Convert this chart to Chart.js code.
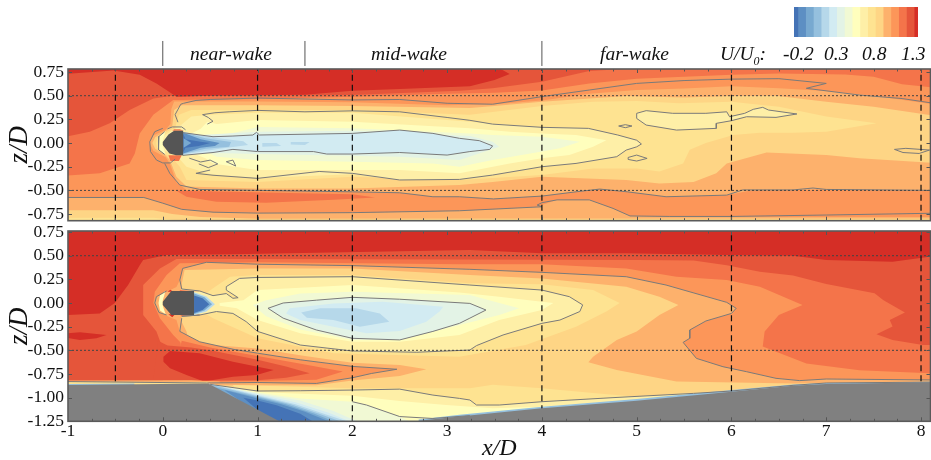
<!DOCTYPE html>
<html>
<head>
<meta charset="utf-8">
<script src="https://cdn.jsdelivr.net/npm/chart.js@4"></script>
<style>
html, body { margin: 0; background: #fff; }
body { position: relative; width: 931px; height: 460px; overflow: hidden; font-family: "Liberation Serif", serif; }
canvas { position: absolute; left: 0; }
.lab { position: absolute; top: 42px; font-style: italic; font-size: 19.5px; line-height: 24px; white-space: nowrap; color: #111; }
.lab sub { font-size: 12px; line-height: 0; }
</style>
</head>
<body>
<canvas id="topChart" width="931" height="225" style="top:0"></canvas>
<canvas id="botChart" width="931" height="235" style="top:225px"></canvas>
<canvas id="barChart" width="124" height="30" style="left:794px;top:7px"></canvas>
<span class="lab" style="left:190px">near-wake</span>
<span class="lab" style="left:371px">mid-wake</span>
<span class="lab" style="left:600px">far-wake</span>
<span class="lab" style="left:720px">U/U<sub>0</sub>:</span>
<span class="lab" style="left:783px">-0.2</span>
<span class="lab" style="left:824px">0.3</span>
<span class="lab" style="left:862px">0.8</span>
<span class="lab" style="left:901px">1.3</span>
<script>
// contour levels, low to high
const levelColors = ['#4473b6','#5d8fc3','#78a9d0','#95c0de','#b6d8ea','#d2ebf2','#e3f3e6','#f1f9d4','#fffebd','#feefa7','#fee391','#fed585','#fdb16c','#fc9659','#f4744a','#e5553a','#d52e26'];
const levelWidths = [0.5,1,1,1,1,1,1,1,1,1,1,1,1,1,1,1,0.5];
const [c0,c1,c2,c3,c4,c5,c6,c7,c8,c9,c10,c11,c12,c13,c14,c15,c16] = levelColors;

const xTicks = [-1,0,1,2,3,4,5,6,7,8];
const topZTicks = [0.75,0.5,0.25,0,-0.25,-0.5,-0.75];
const botZTicks = [0.75,0.5,0.25,0,-0.25,-0.5,-0.75,-1,-1.25];
const xProbes = [-0.5,1,2,4,6,8];
const zProbes = [0.5,-0.5];
const regionEdges = [0,1.5,4];
const wholeBox = [-1.02,.9,8.2,.9,8.2,-1.3,-1.02,-1.3];

// top panel, filled regions as x,z pairs
const topF47 = [-1.02,.79,8.2,.79,8.2,.58,7.8,.62,7.5,.7,7.2,.725,6.5,.735,6,.72,5.5,.7,5,.68,4.5,.63,4,.555,3.5,.53,3,.52,2,.49,1,.465,.5,.46,.2,.455,.11,.455,-.1,.3,-.243,.1,-.295,-.11,-.35,-.215,-.665,-.32,-1.02,-.345];
const topE55 = [-1.02,.79,5,.79,4.5,.76,4,.648,3.48,.578,3.13,.553,2,.507,1,.5,.1,.5,-.1,.47,-.35,.35,-.56,.21,-.77,.12,-1.02,.067];
const topRed = [-1.02,.79,3.55,.79,3.66,.73,3.5,.665,3.24,.6,2.5,.57,2,.553,1.5,.51,1,.505,.5,.5,.144,.49,.07,.54,-.067,.63,-.243,.72,-.52,.765,-1.02,.73];
const topFloorA = [-1.02,-.575,-.2,-.575,0,-.635,.2,-.7,.53,-.73,1,-.74,2,-.735,3.13,-.715,4,-.673,4,-.655,4.16,-.6,4.5,-.6,4.75,-.69,4.93,-.77,5.35,-.775,6.5,-.78,8.2,-.78,8.2,-.85,-1.02,-.85];
const topFloorB = [-1.02,-.71,-.1,-.71,.1,-.75,.4,-.78,1,-.8,8.2,-.796,8.2,-.85,-1.02,-.85];
const topFloorC = [-1.02,-.79,-.1,-.79,.1,-.81,.3,-.83,-1.02,-.85];
const topBlob = [.144,-.504,.25,-.567,.566,-.62,1.09,-.63,1.8,-.6,2.24,-.574,2,-.54,1.45,-.53,.74,-.514];
const topFdb = [.12,.44,.5,.44,1,.44,2,.43,3,.4,3.5,.41,4,.45,4.5,.52,5,.56,5.5,.575,6,.6,6.5,.58,7,.55,7.5,.5,8.2,.4,8.2,-.5,7,-.49,6.2,-.5,5.95,-.55,5.31,-.567,4.9,-.515,4.61,-.486,4.36,-.515,4,-.56,3.49,-.59,3.13,-.567,2.85,-.567,2.5,-.525,2,-.515,1.45,-.504,.25,-.497,.144,-.41,.074,-.215,.03,-.15,-.1,-.08,-.14,0,-.1,.08,.03,.14,.08,.2,.09,.36];
const topFed = [.2,.4,1,.4,2,.39,3.24,.37,3.5,.39,4,.437,4.89,.497,5.5,.48,6,.497,6.47,.5,7,.437,7.5,.384,8.09,.296,8.2,.28,8.2,-.215,7.35,-.16,7,-.127,6.37,-.1,5.95,-.215,5.84,-.32,5.6,-.41,5.24,-.426,4.89,-.39,4,-.356,3.48,-.41,3.13,-.444,2,-.48,1,-.48,.25,-.46,.144,-.356,.074,-.18,.02,-.12,-.08,-.06,-.11,0,-.08,.06,.02,.12,.1,.18,.12,.35];
const topFee = [.3,.35,1,.35,2,.35,3.24,.3,4,.39,4.54,.437,5,.444,5.45,.42,6,.437,6.5,.384,7,.28,7.53,.208,7,.12,6.65,.11,6.3,.11,6.02,.085,5.73,0,5.56,-.07,5.49,-.215,5.24,-.3,5,-.27,4.54,-.268,4,-.338,3.48,-.37,3.13,-.39,2,-.355,1,-.41,.25,-.39,.18,-.25,.11,-.17,0,-.1,-.06,-.05,-.07,0,-.06,.05,0,.1,.13,.16,.17,.3];
const topPale = [.5,.3,1,.32,2,.32,3.24,.225,3.48,.2,4,.166,4.49,.155,4.8,.085,5,.03,5.05,-.01,5,-.04,4.89,-.074,4.79,-.144,4.36,-.215,4,-.25,3.48,-.338,3.13,-.384,2.5,-.39,2,-.33,1,-.37,.5,-.33,.25,-.25,.18,-.17,0,-.07,-.04,0,0,.07,.18,.18,.3,.28];
const topIsland = [5,.314,5.1,.342,5.38,.314,5.73,.314,5.95,.33,5.98,.278,6.14,.314,6.23,.356,6.33,.377,6.39,.349,6.69,.307,6.47,.271,6.16,.278,6,.236,5.84,.208,5.84,.155,5.42,.137,5.1,.19,5,.26,5,.314];
const topLemon = [.47,.225,.57,.2,1,.243,2,.225,3.24,.155,3.66,.12,4,.1,4.36,.085,4.68,.03,4.54,-.04,4.29,-.127,4,-.16,3.66,-.215,3.13,-.32,2.5,-.285,2,-.285,1,-.285,.53,-.215,.45,-.16,.3,-.1,.3,.1,.4,.15];
const topGreen = [.8,.12,1,.17,2,.155,3.24,.1,3.48,.085,4,.067,4.4,.014,4.19,-.056,4,-.09,3.48,-.18,3.13,-.25,2.85,-.215,2,-.197,1,-.18,.57,-.144,.4,-.07,.46,0,.6,.08];
const topMint = [.3,.08,1,.12,2,.13,3.24,.074,3.48,.014,3.55,-.04,3.13,-.18,2.5,-.144,1,-.116,.3,-.1];
const topCore = [.21,.11,.53,.067,.74,.074,.95,.085,.99,.113,1.02,.085,2,.102,2.5,.137,2.85,.102,3.13,.05,3.34,.025,3.48,-.03,3.45,-.067,3.24,-.09,3,-.127,2.5,-.1,2,-.116,1.73,-.116,1.59,-.09,1,-.09,.74,-.067,.53,-.1,.21,-.13];
const topSky1 = [.215,.12,.5,.06,.85,.02,.9,-.02,.6,-.06,.215,-.12];
const topSky2 = [1.05,0,1.2,0,1.25,-.03,1.05,-.04];
const topSky3 = [1.35,.01,1.55,.01,1.5,-.02,1.35,-.015];
const topBlue1 = [.215,.115,.45,.05,.72,.01,.7,-.04,.45,-.06,.215,-.115];
const topBlue2 = [.215,.11,.4,.04,.6,0,.55,-.03,.4,-.05,.215,-.11];
const topBlue3 = [.215,.1,.24,.04,.4,.015,.5,0,.38,-.03,.24,-.05,.215,-.1];
const topBlue4 = [.22,.05,.3,0,.22,-.05];
const topNose = [.03,.13,-.03,.08,-.045,0,-.03,-.08,.03,-.12,0,-.03,0,.03];
const topFleckA = [.1,.13,.22,.13,.18,.145,.12,.145];
const topFleckB = [.06,-.13,.2,-.13,.17,-.19,.08,-.19];
const topBody = [.215,.13,.12,.13,.06,.09,0,.01,0,-.02,.07,-.11,.14,-.13,.215,-.13];

// top panel, contour lines
const topLineUp = [.16,.22,.13,.3,.19,.41,.22,.42,.35,.45,.5,.46,1,.475,2,.455,2.5,.46,3,.42,3.48,.41,4,.49,4.5,.56,5,.63,5.5,.66,6,.675,6.5,.68,7,.63,6.79,.578,7.35,.507,7.8,.47,8.2,.41];
const topLineLow = [.02,-.215,.074,-.32,.18,-.444,.39,-.49,2,-.515,2.5,-.525,2.85,-.567,3.13,-.567,3.49,-.59,4,-.56,4.36,-.515,4.61,-.486,4.9,-.515,5.31,-.567,5.95,-.55,6.12,-.495,6.65,-.495,6.86,-.475,7,-.49,8.2,-.5];
const topLineFloor = [-1.02,-.575,-.2,-.575,0,-.635,.2,-.7,.53,-.73,1,-.74,2,-.735,3.13,-.715,4,-.673,3.95,-.655,4,-.63,4.16,-.6,4.5,-.6,4.75,-.69,4.93,-.77,5.35,-.775,6,-.775,7,-.76,8.2,-.74];
const topLineInner = [.47,.2,.53,.23,.48,.27,.42,.3,.55,.32,.7,.33,1,.345,1.5,.33,2,.34,2.5,.33,3,.27,3.24,.24,3.48,.2,4,.166,4.49,.155,4.8,.085,5,.03,5.05,-.01,5,-.04,4.89,-.074,4.79,-.144,4.36,-.215,4,-.25,3.48,-.338,3.13,-.384,2.5,-.39,2,-.32,1.65,-.3,1,-.373,.53,-.34,.35,-.32,.5,-.285];
const topLineNose = [0,.155,-.085,.12,-.137,.014,-.13,-.09,-.066,-.18,0,-.21,.08,-.21,.13,-.17];
const topLineShoulder = [.05,.15,.1,.17,.2,.17,.24,.14];
const topLineShell = [.02,.12,-.04,.07,-.05,0,-.04,-.07,.02,-.12];
const topLoopA = [4.81,.18,4.88,.194,4.95,.18,4.88,.162,4.81,.18];
const topLoopB = [4.91,-.152,5,-.127,5.11,-.162,5,-.19,4.91,-.173,4.91,-.152];
const topLoopC = [7.72,-.067,7.84,-.056,8.09,-.074,7.98,-.11,7.81,-.1,7.72,-.067];
const topLoopD = [.67,-.197,.74,-.18,.77,-.243,.71,-.215,.67,-.197];
const topJag = [.28,-.16,.4,-.2,.5,-.18,.58,-.22,.48,-.26,.38,-.22];

// bottom panel, filled regions
const botRed = [-1.02,.8,8.2,.8,8.2,.49,8.09,.49,7.7,.437,7,.455,6.65,.5,5.95,.507,4.89,.525,4,.525,3.24,.56,.74,.515,.04,.507,-.207,.455,-.243,.4,-.366,.19,-.506,0,-.665,-.11,-1.02,-.127];
const botPatch = [-1.02,-.32,-.875,-.31,-.594,-.338,-.7,-.373,-.875,-.39,-1.02,-.366];
const botF47 = [.144,.465,-.03,.366,-.207,.19,-.207,-.127,-.067,-.3,0,-.48,0,-1.3,8.2,-1.3,8.2,-.445,8.02,-.444,7.7,-.39,7.53,-.33,7.7,-.247,7.67,-.18,7.83,-.1,7.6,.032,7.51,.102,7,.2,6.65,.29,6.3,.33,5.95,.4,5.6,.45,5,.455,3,.46,1,.465];
const botFc9 = [.18,.42,.04,.296,-.084,.12,-.1,0,-.03,-.16,.11,-.338,.25,-.48,.25,-1.3,8.2,-1.3,8.2,-.75,8.09,-.743,7.35,-.71,6.79,-.64,6.33,-.46,6.35,-.3,6.5,-.127,6.75,-.02,6.3,.173,5.95,.243,5.42,.278,4.89,.366,4,.41,3.13,.41,1,.43];
const botFdb = [.21,.366,.46,.43,1,.41,2,.395,3.24,.356,4,.324,4.89,.278,5.31,.19,5.95,.007,6.05,-.056,6,-.11,5.73,-.19,5.56,-.285,5.56,-.373,5.49,-.416,5.63,-.585,5.91,-.673,6.16,-.726,6.47,-.796,6.72,-.82,7,-.803,8.2,-.814,8.2,-1.3,.3,-1.3,.3,-.5,.18,-.3,.144,-.18,-.04,-.1,-.084,0,-.067,.067,.144,.17,.18,.243];
const botFed = [.23,.35,1,.366,2,.366,3.24,.296,4,.26,4.89,.173,5.24,.067,5.44,-.02,5.24,-.127,5,-.3,4.79,-.39,4.54,-.567,4.49,-.627,4.79,-.708,5.42,-.83,6.65,-.85,8.2,-.83,8.2,-1.3,.4,-1.3,.3,-.5,.25,-.3,.2,-.2,.2,.2];
const botFee = [.53,.155,.71,.278,1,.296,2,.296,3.24,.208,4,.197,4.54,.137,4.82,0,4.68,-.09,4.36,-.25,3.83,-.444,3.13,-.567,1.8,-.532,1,-.373,.53,-.16,.36,-.056,.39,.05];
const botInner = [.2,.148,.39,.127,.53,.078,.67,.1,.74,.05,.795,.056,.67,.137,.67,.173,.81,.26,1,.27,2,.278,3.24,.19,4,.137,4.29,.067,4.43,-.02,4.4,-.09,4.19,-.18,4,-.215,3.59,-.338,3.31,-.45,3.24,-.497,2.68,-.52,2,-.507,1.45,-.444,1,-.3,.88,-.197,.74,-.11,.566,-.09,.39,-.127,.2,-.14];
const botLemon = [.6,0,.85,.03,1,.137,2,.19,3.13,.11,3.55,.067,4,.014,4.12,0,4,-.074,3.55,-.18,3.13,-.338,2.5,-.41,2,-.41,1.45,-.32,1,-.18,.78,-.056,.6,-.03];
const botGreen = [.95,-.02,1.09,.03,1.45,.1,2,.12,3.24,.085,3.55,0,3.76,-.056,3.55,-.127,3.13,-.233,2.5,-.39,2,-.39,1.45,-.28,1.09,-.14];
const botMint = [1.11,-.056,1.27,0,1.62,.03,2,.06,2.5,.04,3.24,-.004,3.41,-.074,3.24,-.16,3.13,-.215,2.85,-.3,2.5,-.39,2,-.373,1.62,-.285,1.27,-.16,1.11,-.056];
const botCore = [1.34,-.056,1.8,-.004,2.32,.014,2.96,-.04,2.92,-.09,2.78,-.197,2.5,-.296,2.15,-.32,1.8,-.25,1.45,-.18,1.3,-.11];
const botSky = [1.46,-.1,1.66,-.056,2.04,-.056,2.29,-.11,2.39,-.197,2.08,-.25,1.8,-.18,1.52,-.155];
const botJetFdb = [.3,-.42,.6,-.45,1,-.48,1.5,-.56,2,-.63,2.5,-.655,2.78,-.7,2.5,-.77,2,-.82,1.62,-.87,.5,-.87,.25,-.6];
const botJetFc9 = [.18,-.3,.39,-.41,.75,-.49,1,-.53,1.45,-.6,2,-.67,2.47,-.7,2.2,-.745,2,-.79,1.62,-.85,1,-.84,.46,-.845,.15,-.85,.2,-.6];
const botJetF47 = [.2,-.4,.5,-.47,1,-.56,1.5,-.65,1.9,-.725,1.62,-.81,1,-.825,.5,-.83,.1,-.83];
const botJetE55 = [-.05,-.4,.05,-.45,.3,-.47,.5,-.5,1,-.6,1.3,-.67,1.55,-.743,1.3,-.79,1,-.815,.5,-.82,-.1,-.82];
const botJetRed = [.007,-.567,.077,-.507,.39,-.532,.74,-.62,1.17,-.708,.99,-.76,.74,-.778,.53,-.813,.42,-.824,.25,-.76,.077,-.69,.007,-.62];
const botStripA = [-1.02,-.82,.3,-.815,.6,-.83,.6,-.9,-1.02,-.9];
const botStripB = [-1.02,-.835,.48,-.835,.48,-.9,-1.02,-.9];
const botStripC = [-1.02,-.855,-.3,-.85,-.3,-.9,-1.02,-.9];
const botRampFee = [.74,-.867,2,-.9,3.24,-.9,3.48,-.865,4,-.9,4.54,-.95,5,-.99,5.6,-.95,6,-.93,6,-1,3,-1.3,1,-1.3];
const botRampPale = [.5,-.86,1,-.93,1.45,-.927,2,-.92,2.5,-.91,2.85,-.973,3.24,-1.025,3.31,-1.078,3.55,-1.078,4,-1.043,4.75,-1,5.6,-.955,6,-.93,6.65,-.874,7,-.85,8.2,-.84,8.2,-1.3,1,-1.3];
const botRampLemon = [.5,-.865,1,-.94,2,-.98,2.5,-1.036,2.99,-1.078,3.48,-1.113,4,-1.096,4.72,-1.043,4.75,-1.2,3,-1.3,1,-1.3];
const botRampGreen = [.48,-.85,1,-.945,1.45,-1.01,2,-1.043,2.15,-1.078,2.25,-1.113,2.5,-1.2,2.6,-1.25,2.6,-1.3,1.2,-1.3];
const botRampMint = [.48,-.85,1,-.955,1.45,-1.03,1.8,-1.14,2.05,-1.25,2.05,-1.3,1.2,-1.3];
const botRamp5 = [.48,-.85,1,-.965,1.4,-1.05,1.75,-1.16,1.97,-1.25,1.97,-1.3,1.2,-1.3];
const botRamp4 = [.48,-.85,1,-.975,1.4,-1.07,1.7,-1.17,1.94,-1.25,1.94,-1.3,1.2,-1.3];
const botRamp3 = [.5,-.86,1,-.985,1.35,-1.07,1.65,-1.17,1.87,-1.25,1.87,-1.3,1.2,-1.3];
const botRamp2 = [.55,-.89,1,-.995,1.3,-1.07,1.6,-1.17,1.8,-1.25,1.8,-1.3,1.2,-1.3];
const botRamp1 = [.65,-.92,1,-1.01,1.25,-1.07,1.5,-1.15,1.75,-1.25,1.75,-1.3,1.2,-1.3];
const botRamp0 = [.85,-1,1,-1.03,1.2,-1.08,1.45,-1.17,1.58,-1.25,1.58,-1.3,1.2,-1.3];
const botRise = [2.7,-1.23,3.13,-1.18,4,-1.095,5,-1.015,6,-.92,6.65,-.86,7,-.845,8.2,-.83,8.2,-.9,2.7,-1.3];
const botGroundA = [-1.02,-.867,.48,-.85,1.23,-1.25,1.25,-1.3,-1.02,-1.3];
const botGroundB = [2.65,-1.3,2.7,-1.245,3.13,-1.2,4,-1.113,5,-1.032,6,-.937,6.65,-.874,7,-.856,8.2,-.837,8.2,-1.3];
const botBody = [.33,.127,.09,.127,0,.014,0,-.02,.09,-.127,.33,-.127];
const botBubble1 = [.33,.115,.46,.07,.55,-.014,.46,-.09,.33,-.127];
const botBubble2 = [.33,.1,.44,.06,.52,-.014,.44,-.08,.33,-.115];
const botBubble3 = [.33,.08,.42,.05,.49,-.014,.42,-.075,.33,-.105];
const botNose = [.03,.13,-.03,.08,-.045,0,-.03,-.08,.03,-.12,0,-.03,0,.03];
const botFleckA = [.05,.12,.11,.12,.08,.14];
const botFleckB = [.06,-.12,.13,-.12,.1,-.15];
const botStripUp = [.18,.138,.42,.125,.18,.125];
const botStripLow = [.18,-.125,.42,-.125,.2,-.14];

// bottom panel, contour lines
const botLineOuter = [.2,.148,.18,.243,.21,.366,.46,.43,1,.41,2,.395,3.24,.356,4,.324,4.89,.278,5.31,.19,5.95,.007,6.05,-.056,6,-.11,5.73,-.19,5.56,-.285,5.56,-.373,5.49,-.416,5.63,-.585,5.91,-.673,6.16,-.726,6.47,-.796,6.72,-.82,7,-.803,8.2,-.814];
const botLineJet = [.2,-.16,.18,-.3,.39,-.41,.75,-.49,1,-.53,1.45,-.6,2,-.67,2.47,-.7,2.2,-.745,2,-.79,1.62,-.85,1,-.84,.46,-.845,-1.02,-.83];
const botLineRamp = [.5,-.86,1,-.93,1.45,-.927,2,-.92,2.5,-.91,2.85,-.973,3.13,-1.008,3.24,-1.025,3.31,-1.078,3.55,-1.078,4,-1.043,4.75,-1,5.6,-.955,6,-.93,6.65,-.87,7,-.845,8.2,-.835];
const botLineBelow = [2,-1.043,2.15,-1.078,2.25,-1.113,2.5,-1.2,2.85,-1.22,3.24,-1.19];
const botLineNose = [.04,.127,-.067,.067,-.084,0,-.04,-.1,.04,-.127];
const botLineBack = [.39,-.127,.2,-.14];

function xy(flat) {
    const out = [];
    for (let i = 0; i < flat.length; i += 2) out.push({ x: flat[i], y: flat[i + 1] });
    return out;
}
function area(flat, color) {
    return { data: xy(flat), showLine: true, fill: 'shape', backgroundColor: color, borderWidth: 0, pointRadius: 0, tension: 0 };
}
function line(flat, color, width, dash, noClip) {
    const d = { data: xy(flat), showLine: true, fill: false, borderColor: color, borderWidth: width, borderDash: dash || [], pointRadius: 0, tension: 0 };
    if (noClip) d.clip = false;
    return d;
}
function contour(flat) { return line(flat, '#7a7a7a', 1); }
function probes(zLow, zHigh) {
    return xProbes.map(x => line([x, zLow, x, zHigh], '#111', 1.2, [6, 4]))
        .concat(zProbes.map(z => line([-1, z, 8.1, z], '#444', 1, [2, 2])));
}
// later entries paint over earlier ones
function stacked(list) {
    list.forEach((d, i) => { d.order = list.length - i; });
    return list;
}

const frame = {
    id: 'frame',
    afterDatasetsDraw(chart) {
        const { ctx, chartArea: a, scales: { x, y } } = chart;
        ctx.save();
        ctx.strokeStyle = '#555';
        ctx.lineWidth = 1;
        ctx.beginPath();
        for (let v = -0.75; v <= 8; v += 0.25) {
            const p = Math.round(x.getPixelForValue(v)) + 0.5;
            const len = Number.isInteger(v) ? 4 : 2.5;
            ctx.moveTo(p, a.top); ctx.lineTo(p, a.top + len);
            ctx.moveTo(p, a.bottom); ctx.lineTo(p, a.bottom - len);
        }
        for (const v of y.ticks.map(t => t.value)) {
            const p = Math.round(y.getPixelForValue(v)) + 0.5;
            ctx.moveTo(a.left, p); ctx.lineTo(a.left + 4, p);
            ctx.moveTo(a.right, p); ctx.lineTo(a.right - 4, p);
        }
        ctx.stroke();
        ctx.lineWidth = 1.6;
        ctx.strokeStyle = '#5a5a5a';
        ctx.strokeRect(a.left, a.top, a.right - a.left, a.bottom - a.top);
        ctx.restore();
    }
};

function panel(id, datasets, zMin, zMax, zTicks, padTop, xHeight, showX) {
    Chart.defaults.font.family = '"Liberation Serif", serif';
    return new Chart(document.getElementById(id), {
        type: 'scatter',
        data: { datasets: stacked(datasets) },
        plugins: [frame],
        options: {
            responsive: false,
            animation: false,
            devicePixelRatio: 1,
            layout: { autoPadding: false, padding: { top: padTop, right: 0.5, left: 0, bottom: 0 } },
            plugins: { legend: { display: false }, tooltip: { enabled: false } },
            events: [],
            scales: {
                x: {
                    min: -1, max: 8.1,
                    afterBuildTicks(s) { s.ticks = xTicks.map(v => ({ value: v })); },
                    afterFit(s) { s.height = xHeight; s.paddingLeft = 0; s.paddingRight = 0; },
                    grid: { display: false, drawTicks: false },
                    border: { display: false },
                    ticks: { display: showX, color: '#111', font: { size: 17.5 }, padding: 0, maxRotation: 0, autoSkip: false },
                    title: { display: showX, text: 'x/D', color: '#111', font: { size: 24, style: 'italic' }, padding: { top: 0, bottom: -3 } }
                },
                y: {
                    min: zMin, max: zMax,
                    afterBuildTicks(s) { s.ticks = zTicks.map(v => ({ value: v })); },
                    afterFit(s) { s.width = 68; s.paddingTop = 0; s.paddingBottom = 0; },
                    grid: { display: false, drawTicks: false },
                    border: { display: false },
                    ticks: { color: '#111', font: { size: 17.5 }, padding: 4, autoSkip: false, callback: v => v.toFixed(2) },
                    title: { display: true, text: 'z/D', color: '#111', font: { size: 27, style: 'italic' }, padding: { top: 4, bottom: 0 } }
                }
            }
        }
    });
}

panel('topChart', [
    area(wholeBox, c13),
    area(topF47, c14), area(topE55, c15), area(topRed, c16),
    area(topFloorA, c12), area(topFloorB, c11), area(topFloorC, c10), area(topBlob, c14),
    area(topFdb, c12), area(topFed, c11), area(topFee, c10), area(topPale, c9), area(topIsland, c9),
    area(topLemon, c8), area(topGreen, c7), area(topMint, c6), area(topCore, c5),
    area(topSky1, c4), area(topSky2, c4), area(topSky3, c4),
    area(topBlue1, c3), area(topBlue2, c1), area(topBlue3, c0), area(topBlue4, c2),
    area(topNose, c8), area(topFleckA, c14), area(topFleckB, c14),
    contour(topLineUp), contour(topLineLow), contour(topLineFloor), contour(topLineInner),
    contour(topIsland), contour(topCore), contour(topLineNose), contour(topLineShoulder), contour(topLineShell),
    contour(topLoopA), contour(topLoopB), contour(topLoopC), contour(topLoopD), contour(topJag),
    ...probes(-0.82, 0.782),
    ...regionEdges.map(x => line([x, 0.814, x, 1.078], '#555', 1, [], true)),
    area(topBody, '#555555')
], -0.82, 0.782, topZTicks, 69, 4.3, false);

panel('botChart', [
    area(wholeBox, c15),
    area(botRed, c16), area(botPatch, c16),
    area(botF47, c14), area(botFc9, c13), area(botFdb, c12), area(botFed, c11), area(botFee, c10),
    area(botInner, c9), area(botLemon, c8), area(botGreen, c7), area(botMint, c6), area(botCore, c5), area(botSky, c4),
    area(botJetFdb, c12), area(botJetFc9, c13), area(botJetF47, c14), area(botJetE55, c15), area(botJetRed, c16),
    area(botStripA, c12), area(botStripB, c10), area(botStripC, c3),
    area(botRampFee, c10), area(botRampPale, c9), area(botRampLemon, c8), area(botRampGreen, c7), area(botRampMint, c6),
    area(botRamp5, c5), area(botRamp4, c4), area(botRamp3, c3), area(botRamp2, c2), area(botRamp1, c1), area(botRamp0, c0),
    area(botRise, c3),
    area(botNose, c8), area(botFleckA, c16), area(botFleckB, c16), area(botStripUp, c14), area(botStripLow, c14),
    contour(botLineOuter), contour(botLineJet), contour(botLineRamp), contour(botLineBelow), contour(botLineNose), contour(botLineBack),
    contour(botInner), contour(botMint),
    ...probes(-1.25, 0.761),
    area(botGroundA, '#808080'), area(botGroundB, '#808080'),
    area(botBubble1, c4), area(botBubble2, c2), area(botBubble3, c0),
    area(botBody, '#555555')
], -1.25, 0.761, botZTicks, 6, 38.7, true);

new Chart(document.getElementById('barChart'), {
    type: 'bar',
    data: {
        labels: ['U/U0'],
        datasets: levelWidths.map((w, i) => ({ data: [w], backgroundColor: levelColors[i], barPercentage: 1, categoryPercentage: 1 }))
    },
    options: {
        indexAxis: 'y',
        responsive: false,
        animation: false,
        devicePixelRatio: 1,
        events: [],
        layout: { autoPadding: false },
        plugins: { legend: { display: false }, tooltip: { enabled: false } },
        scales: {
            x: { stacked: true, display: false, min: 0, max: 16 },
            y: { stacked: true, display: false }
        }
    }
});
</script>
</body>
</html>
